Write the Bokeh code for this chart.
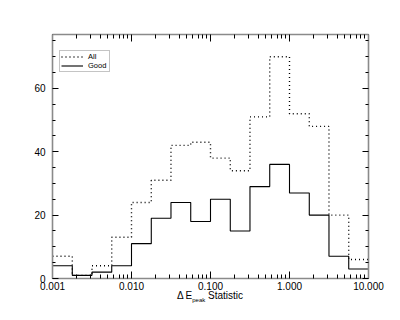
from bokeh.plotting import figure
from bokeh.layouts import column
from bokeh.models import (LogAxis, LinearAxis, FixedTicker, Legend, LegendItem,
                          Range1d, Div)
from bokeh.embed import file_html
from bokeh.resources import INLINE

# bin edges (4 per decade)
edges = [0.001, 0.00178, 0.00316, 0.00562, 0.01, 0.0178, 0.0316, 0.0562,
         0.1, 0.178, 0.316, 0.562, 1.0, 1.78, 3.16, 5.62, 10.0]
all_counts = [7, 1, 4, 13, 24, 31, 42, 43, 38, 34, 51, 70, 52, 48, 20, 6]
good_counts = [4, 1, 2, 4, 11, 19, 24, 18, 25, 15, 29, 36, 27, 20, 7, 3]
x_major = [0.001, 0.01, 0.1, 1.0, 10.0]
x_labels = ["0.001", "0.010", "0.100", "1.000", "10.000"]
y_major = [0, 20, 40, 60]

FONT = "Liberation Sans"

p = figure(width=392, height=294, x_axis_type="log",
           x_range=Range1d(0.001, 10), y_range=Range1d(0, 77),
           output_backend="svg", toolbar_location=None,
           min_border_left=52, min_border_right=24,
           min_border_top=34, min_border_bottom=16)
p.outline_line_color = None
p.grid.visible = False
p.background_fill_color = "white"

xs = edges
ys_all = all_counts + [all_counts[-1]]
ys_good = good_counts + [good_counts[-1]]
r_all = p.step(xs, ys_all, mode="after", line_color="black", line_width=1.4,
               line_dash="1 3")
r_good = p.step(xs, ys_good, mode="after", line_color="black", line_width=1.1)

x_minor = [m * d for d in x_major[:-1] for m in range(2, 10)]
y_minor = [v for v in range(5, 77, 5) if v not in y_major]

def style(ax, labels=True, major=6, minor=3):
    ax.axis_line_color = "#8a8a8a"
    ax.axis_line_width = 1.6
    ax.major_tick_in = major
    ax.major_tick_out = 0
    ax.minor_tick_in = minor
    ax.minor_tick_out = 0
    ax.major_tick_line_color = "black"
    ax.minor_tick_line_color = "black"
    ax.major_label_text_font = FONT
    ax.major_label_text_font_size = "10px"
    ax.major_label_text_color = "black" if labels else None

xb = p.xaxis[0]
xb.ticker = FixedTicker(ticks=x_major, minor_ticks=x_minor)
xb.major_label_overrides = {t: l for t, l in zip(x_major, x_labels)}
xb.major_label_standoff = 3
style(xb, major=7, minor=4)

yl = p.yaxis[0]
yl.ticker = FixedTicker(ticks=y_major, minor_ticks=y_minor)
yl.major_label_standoff = 7
style(yl)

xt = LogAxis(ticker=FixedTicker(ticks=x_major, minor_ticks=x_minor))
style(xt, labels=False, major=7, minor=4)
p.add_layout(xt, "above")
yr = LinearAxis(ticker=FixedTicker(ticks=y_major, minor_ticks=y_minor))
style(yr, labels=False)
p.add_layout(yr, "right")

legend = Legend(items=[LegendItem(label="All", renderers=[r_all]),
                       LegendItem(label="Good", renderers=[r_good])],
                location=(7, 206))
legend.label_text_font = FONT
legend.label_text_font_size = "7.5px"
legend.label_text_color = "black"
legend.glyph_width = 22
legend.glyph_height = 7
legend.label_height = 7
legend.spacing = 0
legend.padding = 1
legend.margin = 0
legend.label_standoff = 5
legend.border_line_color = "#8a8a8a"
legend.border_line_width = 1.2
legend.background_fill_alpha = 1
p.add_layout(legend)

# x axis title: "Δ E_peak Statistic"
title = Div(text="\u0394\u2009E<sub style='font-size:6px'>peak</sub> Statistic",
            width=p.width, height=14, margin=(-4, 0, 0, 0),
            styles={"font-family": FONT, "font-size": "10px",
                    "text-align": "center", "color": "black",
                    "line-height": "12px", "padding-left": "52px",
                    "padding-right": "24px", "box-sizing": "border-box"})

layout = column(p, title, spacing=0)
open("out.html", "w").write(file_html(layout, INLINE))
